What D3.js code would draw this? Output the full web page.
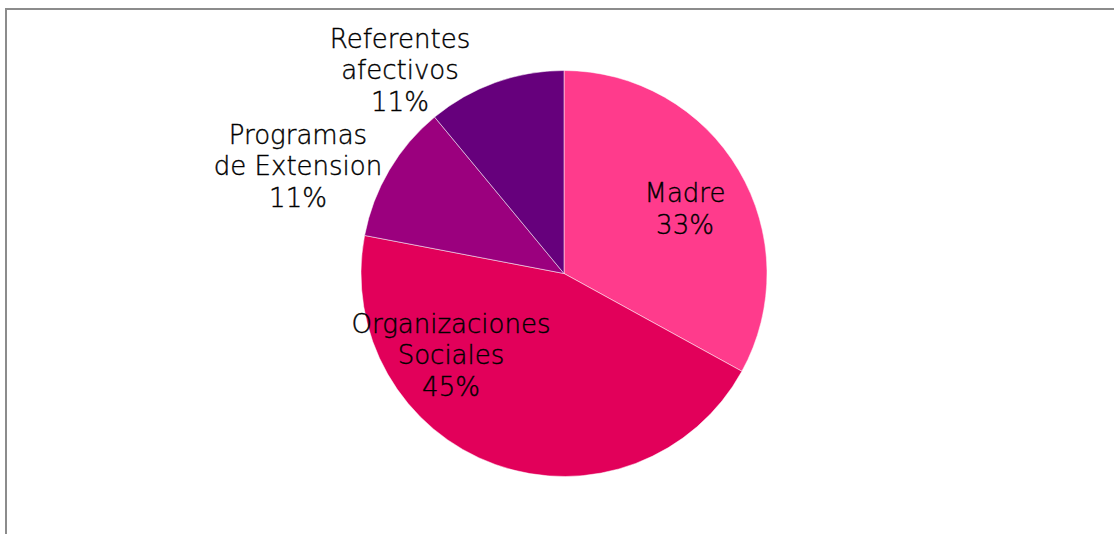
<!DOCTYPE html>
<html>
<head>
<meta charset="utf-8">
<script src="https://cdn.jsdelivr.net/npm/d3@7"></script>
<style>
  html, body { margin: 0; padding: 0; background: #fff; }
  svg { display: block; }
  text { font-family: "DejaVu Sans", sans-serif; font-weight: 200; fill: #000; stroke: #000; stroke-width: 0.4px; }
</style>
</head>
<body>
<svg id="chart" width="1115" height="534"></svg>
<script>
const categories = ["Madre", "Organizaciones Sociales", "Programas de Extension", "Referentes afectivos"];
const labelLines = [["Madre"], ["Organizaciones", "Sociales"], ["Programas", "de Extension"], ["Referentes", "afectivos"]];
const values = [33, 45, 11, 11];
const colors = ["#FF3B8C", "#E2005A", "#9B007E", "#66007C"];

const W = 1115, H = 534;
const cx = 564, cy = 273.5, R = 203;
const svg = d3.select("#chart");

// frame
svg.append("path")
  .attr("d", `M6,534 L6,9 L1114,9`)
  .attr("fill", "none").attr("stroke", "#8c8c8c").attr("stroke-width", 2);

const pie = d3.pie().sort(null).value(d => d)(values);
const arc = d3.arc().innerRadius(0).outerRadius(R);
const g = svg.append("g").attr("transform", `translate(${cx},${cy})`);

g.selectAll("path.slice").data(pie).join("path")
  .attr("class", "slice")
  .attr("d", arc)
  .attr("fill", (d, i) => colors[i])
  .attr("stroke", "#fff").attr("stroke-width", 0.5);

const total = d3.sum(values);
const fontSize = 26, lineH = 31.5;
const labelPos = [[685, 209], [451, 355], [298, 166], [400, 70]];
labelPos.forEach((p, i) => {
  const lines = labelLines[i].concat([Math.round(values[i] / total * 100) + "%"]);
  const t = svg.append("text")
    .attr("text-anchor", "middle")
    .attr("font-size", fontSize);
  const startY = p[1] - (lines.length - 1) * lineH / 2;
  lines.forEach((ln, j) => {
    t.append("tspan").attr("x", p[0]).attr("y", startY + j * lineH)
      .attr("dominant-baseline", "central").text(ln);
  });
});
</script>
</body>
</html>
